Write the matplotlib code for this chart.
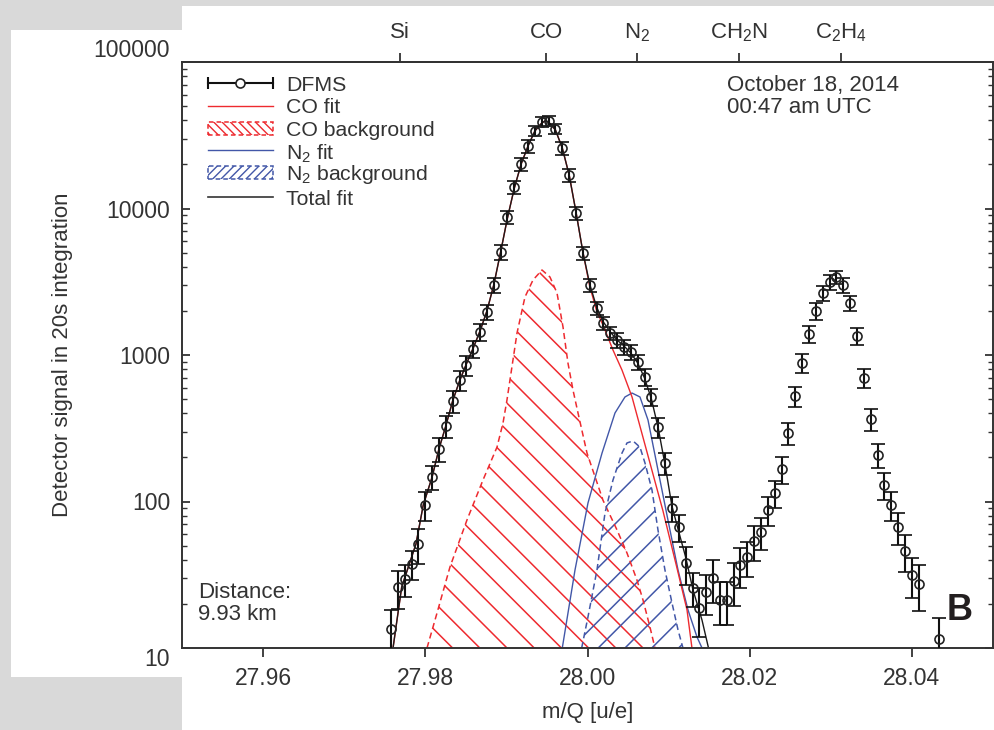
import numpy as np
import matplotlib
matplotlib.use('Agg')
import matplotlib.pyplot as plt
from matplotlib.collections import LineCollection
from matplotlib.patches import Rectangle
from matplotlib import transforms

plt.rcParams['font.family'] = ['Liberation Sans', 'DejaVu Sans']
plt.rcParams['mathtext.fontset'] = 'custom'
plt.rcParams['mathtext.rm'] = 'Liberation Sans'
plt.rcParams['mathtext.it'] = 'Liberation Sans:italic'
plt.rcParams['mathtext.bf'] = 'Liberation Sans:bold'
plt.rcParams['mathtext.default'] = 'regular'
plt.rcParams['hatch.linewidth'] = 1.0

# DFMS measurement (mass, counts, 1-sigma)
dfms_mass = [27.97577, 27.97661, 27.97746, 27.97830, 27.97915, 27.97999, 27.98084, 27.98168, 27.98253, 27.98337,
             27.98422, 27.98506, 27.98591, 27.98675, 27.98760, 27.98844, 27.98929, 27.99013, 27.99098, 27.99182,
             27.99267, 27.99351, 27.99436, 27.99520, 27.99605, 27.99689, 27.99774, 27.99858, 27.99943, 28.00027,
             28.00112, 28.00196, 28.00281, 28.00365, 28.00450, 28.00534, 28.00619, 28.00703, 28.00788, 28.00872,
             28.00957, 28.01041, 28.01126, 28.01210, 28.01295, 28.01379, 28.01464, 28.01548, 28.01633, 28.01717,
             28.01802, 28.01886, 28.01971, 28.02055, 28.02140, 28.02224, 28.02309, 28.02393, 28.02478, 28.02562,
             28.02647, 28.02731, 28.02816, 28.02900, 28.02985, 28.03069, 28.03154, 28.03238, 28.03323, 28.03407,
             28.03492, 28.03576, 28.03661, 28.03745, 28.03830, 28.03914, 28.03999, 28.04083, 28.04336]
dfms_counts = [13.5, 26.1, 29.6, 37.4, 51.3, 94.7, 147, 228, 328, 485,
               675, 854, 1099, 1436, 1966, 3005, 5050, 8750, 14020, 20130,
               26710, 33810, 38950, 39570, 34880, 25880, 16930, 9318, 4970, 3005,
               2093, 1654, 1413, 1266, 1134, 1048, 896, 708, 517, 322,
               183, 90, 67, 38.0, 25.7, 18.8, 24.1, 30.0, 21.3, 21.3,
               28.7, 36.9, 41.8, 53.8, 61.9, 87.5, 114, 167, 293, 525,
               882, 1391, 1997, 2650, 3150, 3407, 3005, 2264, 1348, 697,
               366, 208, 130, 94.7, 67, 45.9, 31.5, 27.3, 11.5]
dfms_err = [4.7, 7.5, 7.3, 8.5, 13.6, 21, 28, 43, 56, 82,
            103, 130, 147, 193, 228, 349, 586, 866, 1388, 1993,
            2644, 2772, 3194, 3245, 2860, 2562, 1676, 922, 492, 297,
            207, 164, 140, 147, 132, 122, 104, 95, 69, 49,
            31, 17, 13.8, 11, 6.7, 7, 7.4, 9.8, 7, 7,
            9.4, 11.3, 11.1, 14.3, 15.2, 19.9, 23.6, 34.6, 49.8, 80,
            134, 186, 268, 307, 365, 337, 349, 263, 181, 106,
            62, 39, 27, 21.5, 16.5, 13.1, 9.6, 9.5, 4.5]

# total fit
total_mass = [27.97602, 27.97709, 27.97885, 27.97975, 27.98084, 27.98168, 27.98253, 27.98337, 27.98422, 27.98506,
              27.98591, 27.98675, 27.98760, 27.98844, 27.98929, 27.99013, 27.99098, 27.99182, 27.99267, 27.99351,
              27.99436, 27.99476, 27.99520, 27.99605, 27.99689, 27.99774, 27.99858, 27.99943, 28.00027, 28.00112,
              28.00196, 28.00281, 28.00365, 28.00450, 28.00534, 28.00619, 28.00703, 28.00788, 28.00872, 28.00957,
              28.01041, 28.01126, 28.01210, 28.01301, 28.01412, 28.01492]
total_counts = [10, 26.1, 51.3, 94.7, 147, 228, 328, 485, 664, 868,
                1116, 1458, 1997, 3005, 5050, 8615, 13800, 20130, 26710, 33810,
                38340, 39570, 38950, 34340, 25880, 16930, 9466, 5050, 3052, 2126,
                1680, 1436, 1266, 1152, 1032, 882, 697, 501, 317, 177,
                93.2, 61.9, 41.8, 24.9, 15.5, 10]

# CO fit
co_mass = [27.97602, 27.97709, 27.97885, 27.97975, 27.98084, 27.98168, 27.98253, 27.98337, 27.98422, 27.98506,
           27.98591, 27.98675, 27.98760, 27.98844, 27.98929, 27.99013, 27.99098, 27.99182, 27.99267, 27.99351,
           27.99436, 27.99476, 27.99520, 27.99605, 27.99689, 27.99774, 27.99858, 27.99943, 28.00027, 28.00112,
           28.00196, 28.00314, 28.00425, 28.00549, 28.00733, 28.00931, 28.01103, 28.01227, 28.01288]
co_counts = [10, 26.1, 51.3, 94.7, 147, 228, 328, 485, 664, 868,
             1116, 1458, 1997, 3005, 5050, 8615, 13800, 20130, 26710, 33810,
             38340, 39570, 38950, 34340, 25880, 16930, 9466, 5050, 2950, 2010,
             1578, 1082, 790, 517, 218, 86.1, 35.2, 18.2, 10]

# CO background
co_bg_mass = [27.98021, 27.98144, 27.98304, 27.98514, 27.98711, 27.98884, 27.98958, 27.99007, 27.99131, 27.99229,
              27.99328, 27.99439, 27.99537, 27.99624, 27.99698, 27.99759, 27.99821, 27.99883, 27.99994, 28.00191,
              28.00364, 28.00487, 28.00610, 28.00684, 28.00770, 28.00832]
co_bg_counts = [10, 17.3, 35.7, 74.8, 140, 235, 343, 493, 1413, 2489,
                3250, 3804, 3407, 2650, 1553, 882, 577, 402, 214, 102,
                63.9, 44.5, 29.1, 21.3, 13.9, 10]

# N2 fit
n2_mass = [27.99689, 27.99846, 28.00006, 28.00179, 28.00339, 28.00462, 28.00549, 28.00647, 28.00746, 28.00869,
           28.00992, 28.01116, 28.01239, 28.01350, 28.01412]
n2_counts = [10, 34.1, 97.7, 214, 402, 517, 550, 517, 360, 164,
             74.8, 34.1, 18.2, 11.9, 10]

# N2 background
n2_bg_mass = [27.99928, 28.00006, 28.00117, 28.00216, 28.00314, 28.00425, 28.00487, 28.00561, 28.00647, 28.00709,
              28.00795, 28.00869, 28.00955, 28.01042, 28.01116, 28.01177]
n2_bg_counts = [10, 16.3, 34.1, 83.5, 140, 214, 251, 259, 235, 183,
                120, 63.9, 34.1, 20.3, 13.3, 10]

# species on top axis
species = ['Si', 'CO', 'N$_2$', 'CH$_2$N', 'C$_2$H$_4$']
species_mass = [27.97693, 27.99491, 28.00615, 28.01872, 28.03130]

xticks = [27.96, 27.98, 28.00, 28.02, 28.04]
yticks = [10, 100, 1000, 10000, 100000]

RED = '#ee2a2f'
BLUE = '#4257a8'
TXT = '#333333'
FS = 16

fig = plt.figure(figsize=(9.94, 7.30), dpi=100, facecolor='#d9d9d9')
# white panels of the page behind the figure
fig.add_artist(Rectangle((11 / 994, 53 / 730), 171 / 994, 647 / 730, transform=fig.transFigure,
                         facecolor='white', edgecolor='none', zorder=-10))
fig.add_artist(Rectangle((182 / 994, 0), 812 / 994, 724 / 730, transform=fig.transFigure,
                         facecolor='white', edgecolor='none', zorder=-10))

ax = fig.add_axes([182 / 994, 82 / 730, 811 / 994, 586 / 730])
ax.set_yscale('log')
ax.set_xlim(27.95, 28.05)
ax.set_ylim(10, 100000)

pos = ax.get_position()
ax_w = pos.width * fig.get_figwidth() * fig.dpi
ax_h = pos.height * fig.get_figheight() * fig.dpi


# hatch a region with widely spaced lines (pixel spacing, 45 degrees)
def hatch_region(xs, ys, color, rising, spacing, anchor):
    poly = ax.fill(xs, ys, facecolor='none', edgecolor='none')[0]
    segs = []
    x0 = anchor - spacing * np.ceil((anchor + ax_h) / spacing)
    while x0 < ax_w + ax_h:
        if rising:
            segs.append([(x0 / ax_w, 0), ((x0 + ax_h) / ax_w, 1)])
        else:
            segs.append([(x0 / ax_w, 0), ((x0 - ax_h) / ax_w, 1)])
        x0 += spacing
    lc = LineCollection(segs, colors=color, linewidths=1.1, transform=ax.transAxes)
    ax.add_collection(lc, autolim=False)
    lc.set_clip_path(poly)


hatch_region(co_bg_mass, co_bg_counts, RED, False, 27.2, 461)
hatch_region(n2_bg_mass, n2_bg_counts, BLUE, True, 26.8, 443)

ax.plot(co_bg_mass, co_bg_counts, color=RED, lw=1.1, ls=(0, (4, 2.5)))
ax.plot(n2_bg_mass, n2_bg_counts, color=BLUE, lw=1.1, ls=(0, (4, 2.5)))
ax.plot(n2_mass, n2_counts, color=BLUE, lw=1.0)
ax.plot(co_mass, co_counts, color=RED, lw=1.0)
ax.plot(total_mass, total_counts, color='#1a1a1a', lw=1.0)

ax.errorbar(dfms_mass, dfms_counts, yerr=dfms_err, fmt='o', ms=6.5, mfc='none', mec='#222222', mew=1.2,
            ecolor='#111111', elinewidth=1.5, capsize=5, capthick=1.5, zorder=5)

ax.set_xlim(27.95, 28.05)
ax.set_ylim(10, 100000)

# axes styling
for s in ax.spines.values():
    s.set_linewidth(1.4)
    s.set_color(TXT)
ax.set_xticks(xticks)
ax.set_xticklabels(['%.2f' % v for v in xticks])
ax.set_yticks(yticks)
ax.set_yticklabels([str(v) for v in yticks])
ax.yaxis.set_minor_formatter(matplotlib.ticker.NullFormatter())
ax.tick_params(axis='x', which='both', direction='out', length=6.5, width=1.3, top=False,
               pad=7, labelsize=16.5, color=TXT, labelcolor=TXT)
ax.tick_params(axis='y', which='major', direction='in', length=6, width=1.3, left=True, right=True,
               pad=8.6, labelsize=16.5, color=TXT, labelcolor=TXT)
ax.tick_params(axis='y', which='minor', direction='in', length=3.5, width=1.0, left=True, right=True,
               color=TXT)
# end labels sit off their ticks in the original
ylabs = ax.get_yticklabels()
ylabs[0].set_va('top')
ylabs[-1].set_va('bottom')

ax.set_xlabel('m/Q [u/e]', fontsize=FS, color=TXT)
ax.set_ylabel('Detector signal in 20s integration', fontsize=FS, color=TXT)
ax.xaxis.set_label_coords(0.5, -0.092)
ax.yaxis.set_label_coords(-0.134, 0.5)

# species on top
top = ax.secondary_xaxis('top')
top.set_xticks(species_mass)
top.set_xticklabels([''] * len(species_mass))
top.tick_params(direction='out', length=6.5, width=1.3, color=TXT)
top.spines['top'].set_linewidth(1.4)
top.spines['top'].set_color(TXT)
blend = transforms.blended_transform_factory(ax.transData, ax.transAxes)
for m, lab in zip(species_mass, species):
    ax.text(m, 1.041, lab, transform=blend, ha='center', va='baseline', fontsize=FS, color=TXT)

# legend, drawn by hand to match the tight layout
LFS = 15.3
lx0, lx1, ltx = 0.032, 0.112, 0.128
hy = [0.9642, 0.9249, 0.8857, 0.8498, 0.8106, 0.7696]
ty = [0.9505, 0.9130, 0.8730, 0.8340, 0.7980, 0.7560]
labels = ['DFMS', 'CO fit', 'CO background', 'N$_2$ fit', 'N$_2$ background', 'Total fit']
for y, lab in zip(ty, labels):
    ax.text(ltx, y, lab, transform=ax.transAxes, ha='left', va='baseline', fontsize=LFS, color=TXT)

ax.plot([lx0, lx1], [hy[0], hy[0]], transform=ax.transAxes, color='#111111', lw=1.5, clip_on=False)
ax.plot([lx0, lx1], [hy[0], hy[0]], transform=ax.transAxes, ls='none', marker='|', ms=9, mew=1.5,
        color='#111111', clip_on=False)
ax.plot([(lx0 + lx1) / 2], [hy[0]], transform=ax.transAxes, ls='none', marker='o', ms=6.5,
        mfc='white', mec='#222222', mew=1.2, clip_on=False)
ax.plot([lx0, lx1], [hy[1], hy[1]], transform=ax.transAxes, color=RED, lw=1.0)
ax.plot([lx0, lx1], [hy[3], hy[3]], transform=ax.transAxes, color=BLUE, lw=1.0)
ax.plot([lx0, lx1], [hy[5], hy[5]], transform=ax.transAxes, color='#333333', lw=1.2)
rh = 13 / ax_h
ax.add_patch(Rectangle((lx0, hy[2] - rh / 2), lx1 - lx0, rh, transform=ax.transAxes, fill=False,
                       edgecolor=RED, lw=1.1, ls=(0, (3, 2)), hatch='\\\\\\\\'))
ax.add_patch(Rectangle((lx0, hy[4] - rh / 2), lx1 - lx0, rh, transform=ax.transAxes, fill=False,
                       edgecolor=BLUE, lw=1.1, ls=(0, (3, 2)), hatch='////'))

# annotations
ax.text(0.672, 0.9505, 'October 18, 2014', transform=ax.transAxes, fontsize=FS, color=TXT, va='baseline')
ax.text(0.672, 0.9130, '00:47 am UTC', transform=ax.transAxes, fontsize=FS, color=TXT, va='baseline')
ax.text(0.0197, 0.0853, 'Distance:', transform=ax.transAxes, fontsize=FS, color=TXT, va='baseline')
ax.text(0.0197, 0.0478, '9.93 km', transform=ax.transAxes, fontsize=FS, color=TXT, va='baseline')
ax.text(0.9433, 0.0478, 'B', transform=ax.transAxes, fontsize=26, fontweight='bold', color='#231f20',
        va='baseline', family=['Liberation Sans Narrow', 'Liberation Sans'])

fig.savefig('out.png', dpi=100, facecolor=fig.get_facecolor())
